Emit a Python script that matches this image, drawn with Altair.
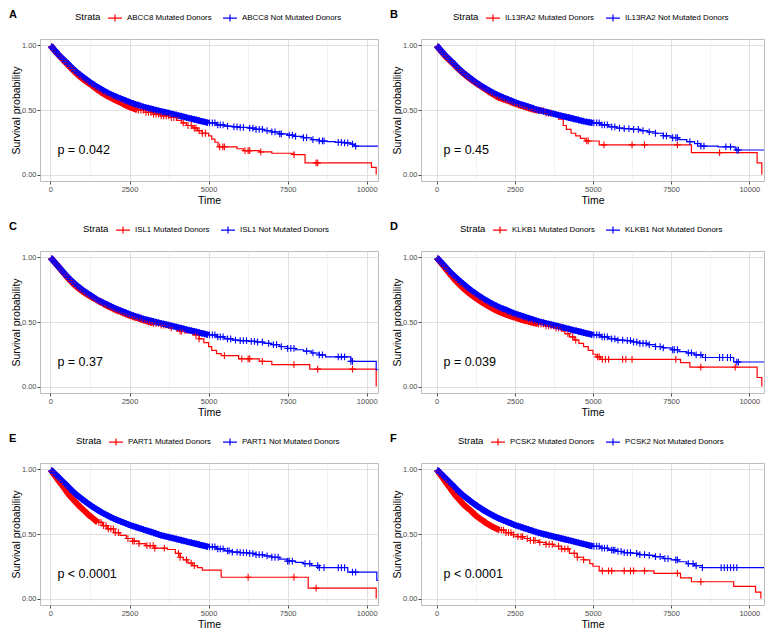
import altair as alt
import pandas as pd
import numpy as np

RED = "#FF0000"
BLUE = "#0000FF"

letters = ["A", "B", "C", "D", "E", "F"]
genes = ["ABCC8", "IL13RA2", "ISL1", "KLKB1", "PART1", "PCSK2"]
pvals = ["p = 0.042", "p = 0.45", "p = 0.37", "p = 0.039", "p < 0.0001", "p < 0.0001"]
pval_pos = [220, 0.19]

# x-axis domains (left column / right column)
x_domains = [[-330, 10357], [-498, 10470]]
x_ticks = [0, 1250, 2500, 3750, 5000, 6250, 7500, 8750, 10000]
y_ticks = [0, 0.125, 0.25, 0.375, 0.5, 0.625, 0.75, 0.875, 1.0]

# legend left offset (px from plot left)
legend_x = [35, 32, 43, 39, 36, 37]

# ---- Kaplan-Meier knots: (time, survival) ----
mut_t = [
    [0, 250, 500, 750, 1000, 1250, 1500, 1750, 2000, 2250, 2500, 2750, 3000, 3250, 3500, 3750, 4000, 4150, 4300, 4500, 4650, 4800, 5000, 5100, 5200, 5300, 5900, 6100, 6600, 7000, 7700, 8050, 10150, 10300],
    [0, 250, 500, 750, 1000, 1250, 1500, 1750, 2000, 2250, 2500, 2750, 3000, 3250, 3500, 3750, 3900, 4050, 4150, 4300, 4450, 4600, 4750, 5200, 8150, 10250, 10400],
    [0, 250, 500, 750, 1000, 1250, 1500, 1750, 2000, 2250, 2500, 2750, 3000, 3250, 3500, 3750, 4000, 4250, 4500, 4700, 4850, 5000, 5100, 5250, 5400, 5950, 6600, 7000, 8200, 10300],
    [0, 250, 500, 750, 1000, 1250, 1500, 1750, 2000, 2250, 2500, 2750, 3000, 3250, 3500, 3750, 4000, 4100, 4250, 4400, 4550, 4700, 4850, 5000, 5100, 5250, 7800, 8100, 10250, 10400],
    [0, 150, 300, 450, 600, 750, 900, 1050, 1200, 1350, 1500, 1650, 1800, 2000, 2200, 2400, 2600, 2800, 3000, 3300, 3700, 3950, 4100, 4200, 4350, 4500, 4650, 4800, 5400, 8150, 10300],
    [0, 150, 300, 450, 600, 750, 900, 1050, 1200, 1350, 1500, 1650, 1800, 2000, 2200, 2400, 2600, 2800, 3000, 3250, 3500, 3750, 4000, 4250, 4500, 4700, 4900, 5000, 5200, 6950, 7800, 8150, 9500, 10200, 10370],
]
mut_s = [
    [1.0, 0.927, 0.862, 0.80, 0.745, 0.70, 0.655, 0.615, 0.583, 0.553, 0.523, 0.50, 0.482, 0.468, 0.455, 0.442, 0.42, 0.40, 0.38, 0.36, 0.34, 0.32, 0.30, 0.275, 0.25, 0.215, 0.20, 0.185, 0.175, 0.165, 0.155, 0.09, 0.055, 0.0],
    [1.0, 0.925, 0.865, 0.805, 0.755, 0.71, 0.67, 0.63, 0.595, 0.575, 0.55, 0.53, 0.51, 0.495, 0.475, 0.455, 0.43, 0.38, 0.35, 0.32, 0.30, 0.28, 0.26, 0.23, 0.17, 0.09, 0.0],
    [1.0, 0.93, 0.855, 0.79, 0.74, 0.70, 0.665, 0.63, 0.60, 0.575, 0.55, 0.53, 0.51, 0.49, 0.475, 0.455, 0.43, 0.415, 0.40, 0.37, 0.34, 0.31, 0.28, 0.255, 0.24, 0.215, 0.195, 0.17, 0.135, 0.0],
    [1.0, 0.925, 0.85, 0.785, 0.73, 0.685, 0.645, 0.61, 0.58, 0.555, 0.535, 0.515, 0.5, 0.485, 0.47, 0.455, 0.43, 0.41, 0.385, 0.36, 0.335, 0.31, 0.28, 0.25, 0.23, 0.21, 0.185, 0.15, 0.07, 0.0],
    [1.0, 0.95, 0.90, 0.85, 0.80, 0.76, 0.72, 0.685, 0.65, 0.62, 0.59, 0.565, 0.54, 0.51, 0.49, 0.465, 0.445, 0.425, 0.41, 0.39, 0.38, 0.35, 0.32, 0.30, 0.275, 0.255, 0.24, 0.22, 0.165, 0.08, 0.0],
    [1.0, 0.95, 0.90, 0.85, 0.80, 0.76, 0.72, 0.69, 0.655, 0.625, 0.60, 0.575, 0.555, 0.53, 0.51, 0.495, 0.48, 0.465, 0.45, 0.435, 0.42, 0.405, 0.385, 0.35, 0.32, 0.30, 0.27, 0.25, 0.215, 0.195, 0.16, 0.13, 0.095, 0.05, 0.0],
]

not_t = [
    [0, 250, 500, 750, 1000, 1250, 1500, 1750, 2000, 2250, 2500, 2750, 3000, 3250, 3500, 3750, 4000, 4250, 4500, 4750, 5000, 5250, 5500, 5750, 6000, 6250, 6500, 6750, 7000, 7250, 7500, 7750, 8000, 8250, 8500, 8750, 9000, 9300, 9500, 9600, 10357],
    [0, 250, 500, 750, 1000, 1250, 1500, 1750, 2000, 2250, 2500, 2750, 3000, 3250, 3500, 3750, 4000, 4250, 4500, 4750, 5000, 5250, 5500, 5750, 6000, 6250, 6500, 6750, 7000, 7250, 7500, 7750, 8000, 8250, 8450, 9000, 9550, 10470],
    [0, 250, 500, 750, 1000, 1250, 1500, 1750, 2000, 2250, 2500, 2750, 3000, 3250, 3500, 3750, 4000, 4250, 4500, 4750, 5000, 5250, 5500, 5750, 6000, 6250, 6500, 6750, 7000, 7250, 7500, 7750, 8000, 8250, 8500, 8700, 9500, 10300, 10357],
    [0, 250, 500, 750, 1000, 1250, 1500, 1750, 2000, 2250, 2500, 2750, 3000, 3250, 3500, 3750, 4000, 4250, 4500, 4750, 5000, 5250, 5500, 5750, 6000, 6250, 6500, 6750, 7000, 7250, 7500, 7750, 8000, 8250, 8500, 9500, 10470],
    [0, 250, 500, 750, 1000, 1250, 1500, 1750, 2000, 2250, 2500, 2750, 3000, 3250, 3500, 3750, 4000, 4250, 4500, 4750, 5000, 5250, 5500, 5750, 6000, 6250, 6500, 6750, 7000, 7250, 7500, 7750, 8000, 8250, 8500, 9400, 10320, 10357],
    [0, 250, 500, 750, 1000, 1250, 1500, 1750, 2000, 2250, 2500, 2750, 3000, 3250, 3500, 3750, 4000, 4250, 4500, 4750, 5000, 5250, 5500, 5750, 6000, 6250, 6500, 6750, 7000, 7250, 7500, 7750, 8000, 8250, 8500, 10470],
]
not_s = [
    [1.0, 0.93, 0.87, 0.81, 0.76, 0.715, 0.675, 0.64, 0.61, 0.585, 0.56, 0.54, 0.52, 0.505, 0.49, 0.475, 0.46, 0.445, 0.43, 0.415, 0.40, 0.385, 0.375, 0.37, 0.365, 0.36, 0.35, 0.34, 0.33, 0.315, 0.305, 0.295, 0.285, 0.27, 0.26, 0.255, 0.25, 0.245, 0.235, 0.22, 0.22],
    [1.0, 0.93, 0.87, 0.81, 0.76, 0.715, 0.675, 0.64, 0.61, 0.585, 0.56, 0.54, 0.52, 0.50, 0.485, 0.47, 0.455, 0.44, 0.425, 0.41, 0.40, 0.385, 0.37, 0.36, 0.355, 0.35, 0.34, 0.33, 0.32, 0.30, 0.285, 0.27, 0.255, 0.24, 0.22, 0.215, 0.19, 0.19],
    [1.0, 0.93, 0.86, 0.80, 0.75, 0.71, 0.67, 0.64, 0.61, 0.585, 0.56, 0.54, 0.52, 0.505, 0.49, 0.475, 0.46, 0.445, 0.43, 0.415, 0.40, 0.385, 0.37, 0.36, 0.355, 0.35, 0.345, 0.335, 0.325, 0.31, 0.295, 0.285, 0.275, 0.26, 0.245, 0.23, 0.195, 0.13, 0.13],
    [1.0, 0.935, 0.87, 0.815, 0.765, 0.72, 0.68, 0.645, 0.615, 0.59, 0.565, 0.545, 0.525, 0.505, 0.49, 0.475, 0.46, 0.445, 0.43, 0.415, 0.40, 0.385, 0.37, 0.36, 0.355, 0.345, 0.335, 0.325, 0.31, 0.30, 0.285, 0.27, 0.26, 0.245, 0.225, 0.19, 0.19],
    [1.0, 0.94, 0.88, 0.82, 0.77, 0.725, 0.685, 0.65, 0.62, 0.595, 0.57, 0.55, 0.53, 0.51, 0.49, 0.475, 0.46, 0.445, 0.43, 0.415, 0.40, 0.385, 0.37, 0.36, 0.355, 0.35, 0.34, 0.33, 0.32, 0.305, 0.29, 0.28, 0.27, 0.255, 0.24, 0.205, 0.14, 0.14],
    [1.0, 0.94, 0.88, 0.82, 0.77, 0.725, 0.685, 0.65, 0.62, 0.595, 0.57, 0.55, 0.53, 0.51, 0.495, 0.48, 0.465, 0.45, 0.435, 0.42, 0.405, 0.39, 0.375, 0.365, 0.355, 0.35, 0.34, 0.335, 0.325, 0.31, 0.30, 0.285, 0.27, 0.255, 0.24, 0.24],
]

# ---- censoring ----
# heavily censored stretch (marks merge into a solid band) ends at these times
mut_band_end = [2750, 3250, 3250, 3250, 1500, 2000]
not_band_end = [5000, 5000, 5000, 5000, 5000, 5000]

dense_censor = [40, 110, 190, 260, 330, 410, 480, 560, 630, 700, 780, 850, 930, 1000, 1080, 1150, 1230, 1300,
                1380, 1450, 1530, 1600, 1680, 1760, 1830, 1910, 1990, 2070, 2140, 2220, 2300, 2380, 2460, 2540,
                2620, 2700, 2780, 2860, 2940, 3020, 3100, 3180, 3260, 3340, 3420, 3500, 3580, 3660, 3740, 3820,
                3900, 3980, 4060, 4140, 4220, 4300, 4380, 4460, 4540, 4620, 4700, 4790, 4870, 4950, 5030, 5120,
                5200, 5290, 5370, 5460]
mut_dense_end = [4000, 3700, 3900, 4000, 2000, 2500]
not_dense_end = [5500, 5500, 5500, 5500, 5500, 5500]

mut_censor = [
    [4200, 4350, 4450, 4550, 4600, 4700, 4800, 4900, 5350, 5450, 5500, 6150, 6250, 6300, 6650, 7700, 8400, 8450],
    [4800, 4850, 5350, 6250, 6650, 7700, 9050],
    [4100, 4150, 4600, 4700, 5500, 6050, 6250, 6300, 6700, 7700, 8450, 9550],
    [4200, 4350, 4450, 5150, 5200, 5300, 5400, 5500, 5950, 6050, 6250, 7650, 8450, 9550],
    [2050, 2150, 2450, 2600, 2650, 2800, 3050, 3150, 3250, 3300, 3600, 4050, 4100, 4300, 4450, 4550, 6250, 7700, 8400],
    [2600, 2700, 2750, 2900, 3000, 3100, 3150, 3300, 3500, 3600, 3700, 3900, 4000, 4100, 4200, 4400, 4500, 4700, 5300, 5500, 5600, 6000, 6200, 6300, 6650, 7700, 8450],
]
not_censor = [
    [5600, 5800, 5900, 6000, 6100, 6300, 6400, 6500, 6600, 6700, 6850, 7000, 7100, 7250, 7300, 7550, 7650, 7750, 8000, 8100, 8300, 8500, 8600, 8650, 9100, 9200, 9300, 9400, 9550, 9650],
    [5600, 5700, 5850, 6000, 6150, 6300, 6450, 6600, 6800, 7000, 7250, 7350, 7550, 7650, 7700, 8100, 8350, 8450, 8550, 9250, 9400, 9600, 9650],
    [5600, 5700, 5850, 6000, 6100, 6200, 6350, 6450, 6550, 6700, 6900, 7050, 7150, 7300, 7500, 7600, 7700, 8100, 8300, 8500, 8600, 9100, 9200, 9300, 9500, 9550],
    [5600, 5700, 5800, 5950, 6100, 6200, 6300, 6400, 6500, 6600, 6700, 6800, 7000, 7150, 7250, 7550, 7600, 7700, 8050, 8150, 8300, 8450, 8600, 9050, 9150, 9300, 9400, 9600, 9650],
    [5600, 5650, 5750, 5900, 6000, 6100, 6200, 6300, 6400, 6500, 6600, 6700, 6850, 7000, 7100, 7200, 7500, 7550, 7650, 8050, 8200, 8450, 8500, 8650, 9100, 9200, 9300, 9550, 9650],
    [5600, 5650, 5700, 5800, 5900, 6000, 6100, 6200, 6400, 6500, 6650, 6800, 7000, 7150, 7300, 7400, 7650, 7700, 8050, 8200, 8300, 8500, 9100, 9200, 9300, 9400, 9500, 9600],
]

PLUS = "M-1,0H1M0,-1V1"
LEG_SYMBOL = "M-1,0H1M0,-0.5V0.5"
FONT = "Liberation Sans"


def surv_at(ts, ss, t):
    idx = np.searchsorted(np.array(ts), t, side="right") - 1
    return ss[max(idx, 0)]


def panel(i):
    mut_lab = f"{genes[i]} Mutated Donors"
    not_lab = f"{genes[i]} Not Mutated Donors"
    step_rows, band_rows, cens_rows = [], [], []
    for lab, ts, ss, dend, bend, cens in [
        (mut_lab, mut_t[i], mut_s[i], mut_dense_end[i], mut_band_end[i], mut_censor[i]),
        (not_lab, not_t[i], not_s[i], not_dense_end[i], not_band_end[i], not_censor[i]),
    ]:
        # solid band over the heavily censored stretch
        for t, s in zip(ts, ss):
            if t <= bend:
                band_rows.append({"strata": lab, "time": t, "surv": s})
        # step curve after the band
        step_rows.append({"strata": lab, "time": bend, "surv": surv_at(ts, ss, bend)})
        for t, s in zip(ts, ss):
            if t > bend:
                step_rows.append({"strata": lab, "time": t, "surv": s})
        # censor marks
        for t in [t for t in dense_censor if t < dend] + cens:
            sv = float(np.interp(t, ts, ss)) if t <= bend else surv_at(ts, ss, t)
            cens_rows.append({"strata": lab, "time": t, "surv": sv})
    step_df = pd.DataFrame(step_rows)
    band_df = pd.DataFrame(band_rows)
    cens_df = pd.DataFrame(cens_rows)

    xdom = x_domains[i % 2]
    x_axis = alt.Axis(
        values=x_ticks, format="d",
        labelExpr="datum.value % 2500 === 0 ? datum.label : ''",
        tickOpacity={"condition": {"test": "datum.value % 2500 === 0", "value": 1}, "value": 0},
        gridWidth={"condition": {"test": "datum.value % 2500 === 0", "value": 1}, "value": 0.6},
        gridColor={"condition": {"test": "datum.value % 2500 === 0", "value": "#E0E0E0"}, "value": "#ECECEC"},
    )
    y_axis = alt.Axis(
        values=y_ticks, format=".2f",
        labelExpr="(datum.value * 4) % 1 === 0 ? datum.label : ''",
        tickOpacity={"condition": {"test": "(datum.value * 4) % 1 === 0", "value": 1}, "value": 0},
        gridWidth={"condition": {"test": "(datum.value * 4) % 1 === 0", "value": 1}, "value": 0.6},
        gridColor={"condition": {"test": "(datum.value * 4) % 1 === 0", "value": "#E0E0E0"}, "value": "#ECECEC"},
    )
    x = alt.X("time:Q", title="Time", scale=alt.Scale(domain=xdom, nice=False, zero=False), axis=x_axis)
    y = alt.Y("surv:Q", title="Survival probability", scale=alt.Scale(domain=[-0.05, 1.05], nice=False, zero=False), axis=y_axis)
    cscale = alt.Scale(domain=[mut_lab, not_lab], range=[RED, BLUE])
    legend = alt.Legend(
        orient="none", legendX=legend_x[i], legendY=-29, direction="horizontal",
        title="Strata", titleOrient="left", titleFontSize=9.5, titleFontWeight="normal",
        titleColor="black", titlePadding=6, titleBaseline="middle",
        labelFontSize=7.9, labelColor="black", labelOffset=4, columnPadding=8,
        symbolType=LEG_SYMBOL, symbolSize=196, symbolStrokeWidth=1.2,
    )
    step_layer = alt.Chart(step_df).mark_line(interpolate="step-after", strokeWidth=1.2, clip=True).encode(
        x=x, y=y, color=alt.Color("strata:N", scale=cscale, legend=legend)
    )
    band_layer = alt.Chart(band_df).mark_line(interpolate="monotone", strokeWidth=6, clip=True).encode(
        x="time:Q", y="surv:Q", color=alt.Color("strata:N", scale=cscale, legend=None)
    )
    cens_layer = alt.Chart(cens_df).mark_point(shape=PLUS, size=46, filled=False, strokeWidth=1.1, opacity=1, clip=True).encode(
        x="time:Q", y="surv:Q", color=alt.Color("strata:N", scale=cscale, legend=None)
    )
    ptxt = alt.Chart(pd.DataFrame({"time": [pval_pos[0]], "surv": [pval_pos[1]], "label": [pvals[i]]})).mark_text(
        align="left", baseline="middle", fontSize=12.5, color="black"
    ).encode(x="time:Q", y="surv:Q", text="label:N")
    letter = alt.Chart(pd.DataFrame({"letter": [letters[i]]})).mark_text(
        align="left", baseline="top", fontSize=11, fontWeight="bold", color="black", x=-31, y=-30
    ).encode(text="letter:N")
    w = 338 if i % 2 == 0 else 343
    return alt.layer(step_layer, band_layer, cens_layer, ptxt, letter).properties(width=w, height=142)


chart = alt.concat(*[panel(i) for i in range(6)], columns=2, spacing={"row": 70, "column": 43}, bounds="flush")
chart = chart.resolve_scale(color="independent", x="independent", y="independent").resolve_legend(color="independent")
chart = chart.properties(padding=0).configure(font=FONT).configure_view(stroke="#BDBDBD", strokeWidth=1).configure_axis(
    domain=False, tickSize=3, tickColor="#4D4D4D", labelFontSize=7.5, labelColor="#4D4D4D", labelPadding=1,
    titleFontSize=10.5, titleFontWeight="normal", titleColor="black", titlePadding=0,
)
chart = chart.configure_axisX(titlePadding=2, labelPadding=1.5)

chart.save("out.html", embed_options={"renderer": "svg", "actions": False})
